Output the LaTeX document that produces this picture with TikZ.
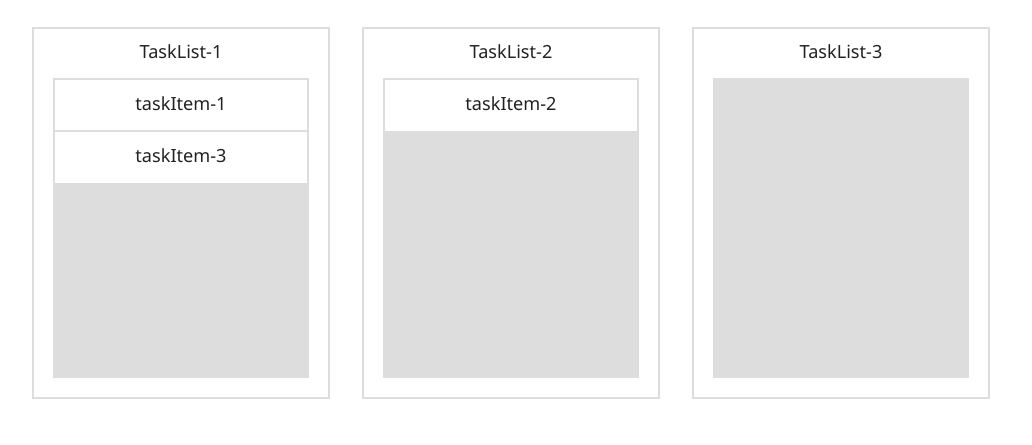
\documentclass[tikz,border=0pt]{standalone}
\usepackage{fontspec}
\setmainfont{Noto Sans}
\definecolor{bord}{HTML}{DDDDDD}
\definecolor{txt}{HTML}{222222}
\begin{document}
\begin{tikzpicture}[x=0.75pt,y=-0.75pt,
  panel/.style={draw=bord,line width=1.5pt,fill=white},
  area/.style={fill=bord},
  item/.style={draw=bord,line width=1.5pt,fill=white},
  lbl/.style={text=txt,font=\fontsize{13.6}{16}\selectfont,inner sep=0pt}]
\useasboundingbox[fill=white] (0,0) rectangle (1032,444);
\foreach \i/\x in {1/33,2/363,3/693}{
  \draw[panel] (\x,28) rectangle (\x+296,398);
  \fill[area] (\x+20,78) rectangle (\x+276,378);
  \node[lbl] (title\i) at (\x+148,52) {TaskList-\i};
}
% items panel 1
\draw[item] (54,79) rectangle (308,131);
\node[lbl] (item1) at (181,104) {taskItem-1};
\draw[item] (54,131) rectangle (308,183);
\fill[white] (55,132) rectangle (307,182.5);
\node[lbl] (item3) at (181,156) {taskItem-3};
% item panel 2
\draw[item] (384,79) rectangle (638,131);
\fill[white] (385,80) rectangle (637,130.5);
\node[lbl] (item2) at (511,104) {taskItem-2};
\end{tikzpicture}
\end{document}
